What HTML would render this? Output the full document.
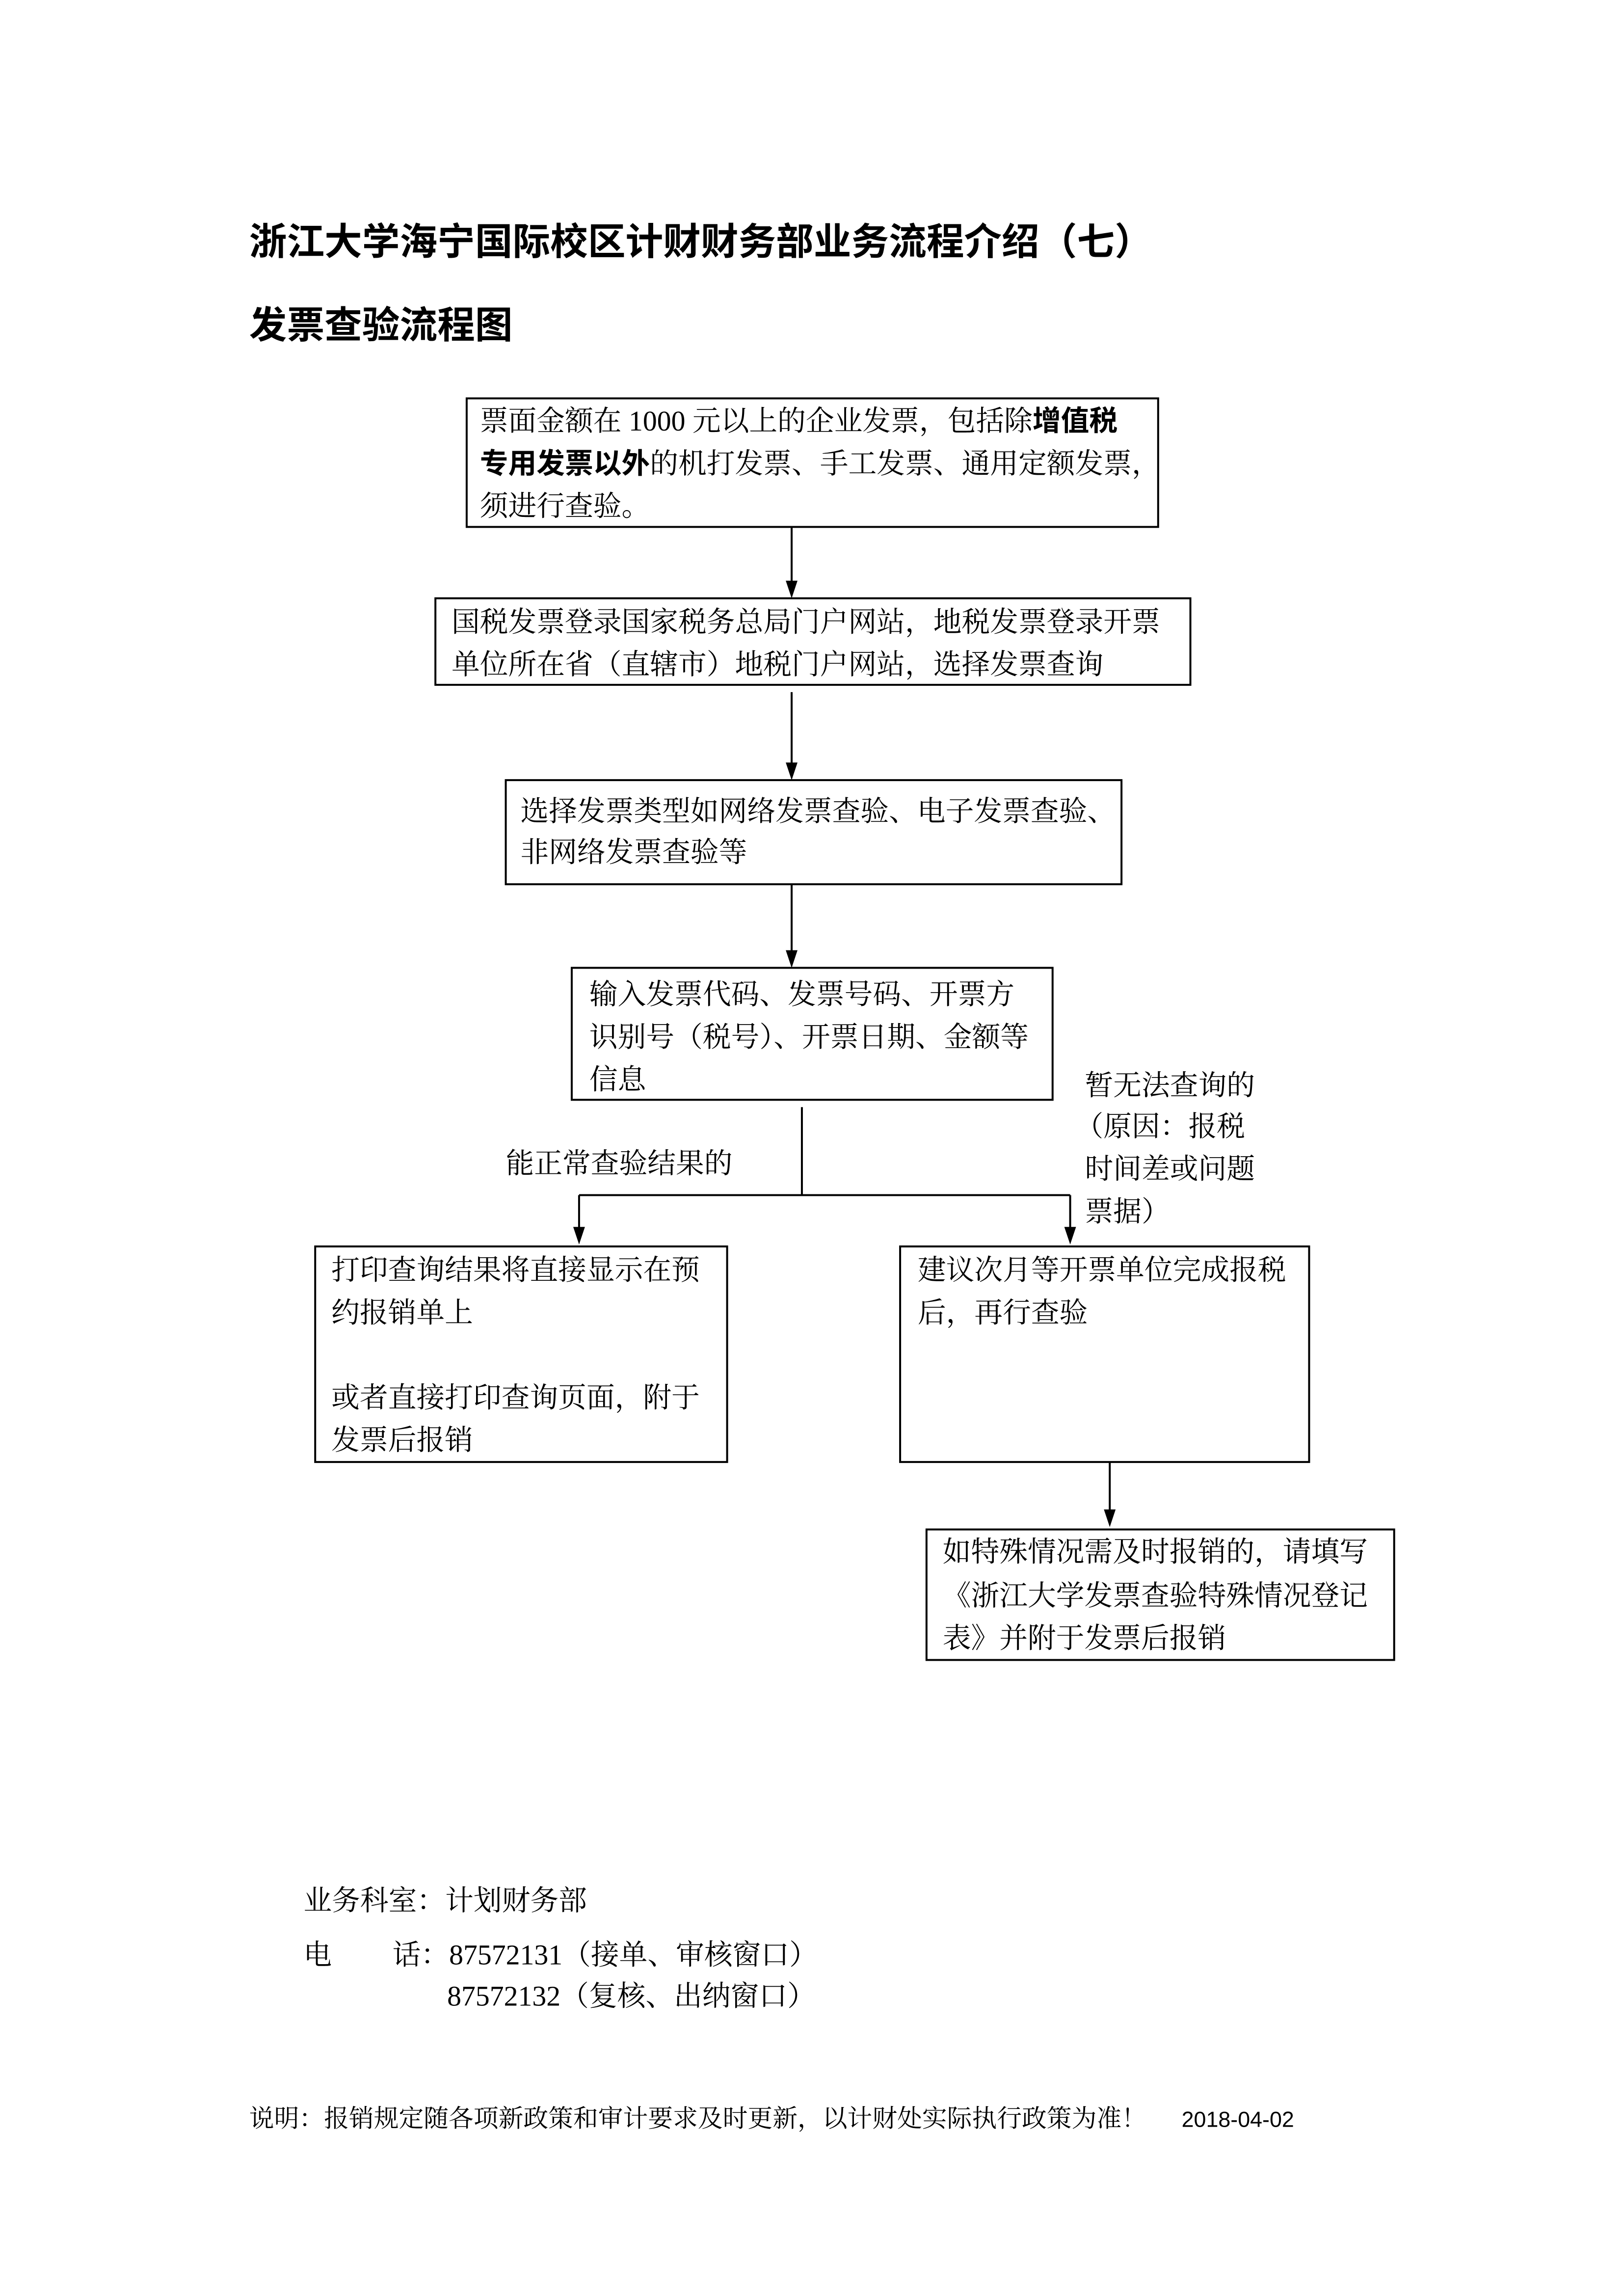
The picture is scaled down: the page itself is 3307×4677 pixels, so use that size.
<!DOCTYPE html>
<html><head><meta charset="utf-8"><style>
html,body{margin:0;padding:0;background:#fff}
body{width:3307px;height:4677px;position:relative;overflow:hidden}
#w{position:absolute;left:0;top:0;width:3307px;height:4677px;transform:scale(0.9957);transform-origin:0 0}
.t{position:absolute;white-space:nowrap;font-family:"Liberation Serif","Noto Serif CJK SC",serif;font-size:58px;line-height:87px;color:#000}
.h{position:absolute;white-space:nowrap;font-family:"Liberation Sans","Noto Sans CJK SC",sans-serif;font-weight:bold;font-size:77px;line-height:110px;color:#000}
.b{font-weight:bold;font-family:"Liberation Serif","Noto Sans CJK SC",sans-serif}
svg{position:absolute;left:0;top:0}
</style></head><body><div id="w">
<svg width="3307" height="4677" viewBox="0 0 3307 4677">
<g fill="none" stroke="#000" stroke-width="4">
<rect x="955" y="815" width="1415" height="263"/>
<rect x="891" y="1224" width="1545" height="177"/>
<rect x="1035" y="1596" width="1260" height="213"/>
<rect x="1170" y="1980" width="984" height="270"/>
<rect x="645" y="2550" width="843" height="441"/>
<rect x="1842" y="2550" width="837" height="441"/>
<rect x="1896" y="3129" width="957" height="267"/>
<line x1="1620" y1="1078" x2="1620" y2="1190"/>
<line x1="1620" y1="1416" x2="1620" y2="1562"/>
<line x1="1620" y1="1809" x2="1620" y2="1946"/>
<line x1="1641" y1="2265" x2="1641" y2="2445"/>
<line x1="1185" y1="2445" x2="2190" y2="2445"/>
<line x1="1185" y1="2445" x2="1185" y2="2512"/>
<line x1="2190" y1="2445" x2="2190" y2="2512"/>
<line x1="2271" y1="2991" x2="2271" y2="3090"/>
</g>
<g fill="#000">
<polygon points="1608,1188 1632,1188 1620,1224"/>
<polygon points="1608,1560 1632,1560 1620,1596"/>
<polygon points="1608,1944 1632,1944 1620,1980"/>
<polygon points="1173,2510 1197,2510 1185,2546"/>
<polygon points="2178,2510 2202,2510 2190,2546"/>
<polygon points="2259,3088 2283,3088 2271,3124"/>
</g>
</svg>

<div class="h" style="left:510px;top:440px">浙江大学海宁国际校区计财财务部业务流程介绍（七）</div>
<div class="h" style="left:510px;top:611px">发票查验流程图</div>

<div class="t" style="left:982px;top:818px">票面金额在 1000 元以上的企业发票，包括除<span class="b">增值税</span></div>
<div class="t" style="left:982px;top:905px"><span class="b">专用发票以外</span>的机打发票、手工发票、通用定额发票，</div>
<div class="t" style="left:982px;top:992px">须进行查验。</div>

<div class="t" style="left:924px;top:1229px">国税发票登录国家税务总局门户网站，地税发票登录开票</div>
<div class="t" style="left:924px;top:1316px">单位所在省（直辖市）地税门户网站，选择发票查询</div>

<div class="t" style="left:1065px;top:1616px">选择发票类型如网络发票查验、电子发票查验、</div>
<div class="t" style="left:1065px;top:1700px">非网络发票查验等</div>

<div class="t" style="left:1206px;top:1991px">输入发票代码、发票号码、开票方</div>
<div class="t" style="left:1206px;top:2078px">识别号（税号）、开票日期、金额等</div>
<div class="t" style="left:1206px;top:2165px">信息</div>

<div class="t" style="left:1035px;top:2337px">能正常查验结果的</div>

<div class="t" style="left:2220px;top:2177px">暂无法查询的</div>
<div class="t" style="left:2200px;top:2261px">（原因：报税</div>
<div class="t" style="left:2220px;top:2348px">时间差或问题</div>
<div class="t" style="left:2220px;top:2435px">票据）</div>

<div class="t" style="left:678px;top:2555px">打印查询结果将直接显示在预</div>
<div class="t" style="left:678px;top:2642px">约报销单上</div>
<div class="t" style="left:678px;top:2816px">或者直接打印查询页面，附于</div>
<div class="t" style="left:678px;top:2903px">发票后报销</div>

<div class="t" style="left:1878px;top:2555px">建议次月等开票单位完成报税</div>
<div class="t" style="left:1878px;top:2642px">后，再行查验</div>

<div class="t" style="left:1929px;top:3131px">如特殊情况需及时报销的，请填写</div>
<div class="t" style="left:1929px;top:3221px">《浙江大学发票查验特殊情况登记</div>
<div class="t" style="left:1929px;top:3308px">表》并附于发票后报销</div>

<div class="t" style="left:621px;top:3845px">业务科室：计划财务部</div>
<div class="t" style="left:621px;top:3956px">电<span style="display:inline-block;width:124px"></span>话：87572131（接单、审核窗口）</div>
<div class="t" style="left:915px;top:4040px">87572132（复核、出纳窗口）</div>

<div class="t" style="left:510px;top:4292px;font-size:51px">说明：报销规定随各项新政策和审计要求及时更新，以计财处实际执行政策为准！</div>
<div class="t" style="left:2418px;top:4292px;font-size:45px;font-family:'Liberation Sans',sans-serif">2018-04-02</div>
</div></body></html>
